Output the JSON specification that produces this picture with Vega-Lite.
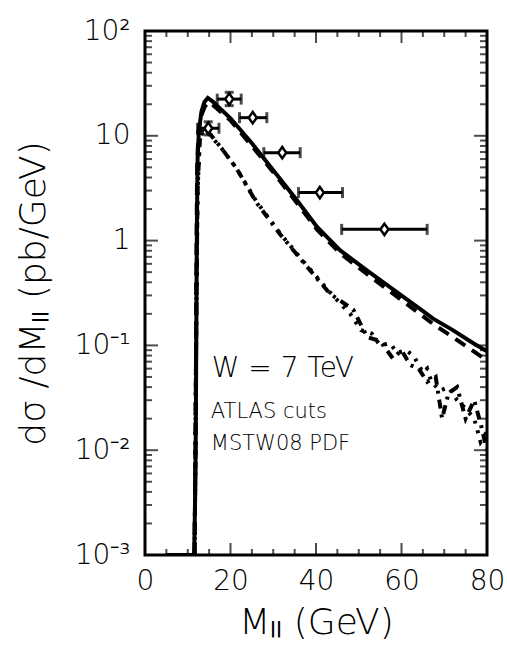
{
  "$schema": "https://vega.github.io/schema/vega-lite/v6.json",
  "width": 342,
  "height": 524,
  "autosize": {"type": "none"},
  "padding": {"left": 145, "top": 31, "right": 20, "bottom": 95},
  "background": "white",
  "config": {
    "view": {"stroke": "black", "strokeWidth": 3}
  },
  "datasets": {
    "curves": [
      {"m": 5, "v": 0.001, "s": "solid"},
      {"m": 11.5, "v": 0.001, "s": "solid"},
      {"m": 11.7, "v": 0.003, "s": "solid"},
      {"m": 11.85, "v": 0.01, "s": "solid"},
      {"m": 11.95, "v": 0.05, "s": "solid"},
      {"m": 12.05, "v": 0.3, "s": "solid"},
      {"m": 12.15, "v": 1.5, "s": "solid"},
      {"m": 12.3, "v": 6, "s": "solid"},
      {"m": 12.6, "v": 11, "s": "solid"},
      {"m": 13.2, "v": 17, "s": "solid"},
      {"m": 13.9, "v": 21, "s": "solid"},
      {"m": 14.7, "v": 23, "s": "solid"},
      {"m": 16, "v": 21, "s": "solid"},
      {"m": 18, "v": 17.5, "s": "solid"},
      {"m": 20, "v": 14.7, "s": "solid"},
      {"m": 25, "v": 8.5, "s": "solid"},
      {"m": 30, "v": 4.7, "s": "solid"},
      {"m": 35.5, "v": 2.44, "s": "solid"},
      {"m": 40.2, "v": 1.36, "s": "solid"},
      {"m": 45.6, "v": 0.81, "s": "solid"},
      {"m": 51.9, "v": 0.52, "s": "solid"},
      {"m": 58.1, "v": 0.34, "s": "solid"},
      {"m": 63.6, "v": 0.235, "s": "solid"},
      {"m": 67.4, "v": 0.18, "s": "solid"},
      {"m": 72, "v": 0.14, "s": "solid"},
      {"m": 76.8, "v": 0.105, "s": "solid"},
      {"m": 80, "v": 0.088, "s": "solid"},
      {"m": 11.6, "v": 0.001, "s": "dashed"},
      {"m": 11.8, "v": 0.01, "s": "dashed"},
      {"m": 11.95, "v": 0.1, "s": "dashed"},
      {"m": 12.05, "v": 1, "s": "dashed"},
      {"m": 12.2, "v": 5, "s": "dashed"},
      {"m": 12.5, "v": 11, "s": "dashed"},
      {"m": 13, "v": 15, "s": "dashed"},
      {"m": 14, "v": 19, "s": "dashed"},
      {"m": 14.8, "v": 21, "s": "dashed"},
      {"m": 16, "v": 19.5, "s": "dashed"},
      {"m": 18, "v": 16.5, "s": "dashed"},
      {"m": 20, "v": 14, "s": "dashed"},
      {"m": 25, "v": 8, "s": "dashed"},
      {"m": 30, "v": 4.5, "s": "dashed"},
      {"m": 35.5, "v": 2.3, "s": "dashed"},
      {"m": 40.2, "v": 1.28, "s": "dashed"},
      {"m": 45.6, "v": 0.76, "s": "dashed"},
      {"m": 51.9, "v": 0.48, "s": "dashed"},
      {"m": 58.1, "v": 0.31, "s": "dashed"},
      {"m": 63.6, "v": 0.21, "s": "dashed"},
      {"m": 67.4, "v": 0.16, "s": "dashed"},
      {"m": 72, "v": 0.12, "s": "dashed"},
      {"m": 76.8, "v": 0.088, "s": "dashed"},
      {"m": 80, "v": 0.072, "s": "dashed"},
      {"m": 11.6, "v": 0.001, "s": "dotted"},
      {"m": 11.8, "v": 0.01, "s": "dotted"},
      {"m": 12.0, "v": 0.2, "s": "dotted"},
      {"m": 12.3, "v": 3, "s": "dotted"},
      {"m": 12.8, "v": 9, "s": "dotted"},
      {"m": 13.5, "v": 11, "s": "dotted"},
      {"m": 14.4, "v": 11, "s": "dotted"},
      {"m": 16, "v": 9.3, "s": "dotted"},
      {"m": 17.9, "v": 7.6, "s": "dotted"},
      {"m": 21.4, "v": 4.9, "s": "dotted"},
      {"m": 26.1, "v": 2.35, "s": "dotted"},
      {"m": 31.6, "v": 1.17, "s": "dotted"},
      {"m": 37.8, "v": 0.58, "s": "dotted"},
      {"m": 43.3, "v": 0.32, "s": "dotted"},
      {"m": 48, "v": 0.2, "s": "dotted"},
      {"m": 50.5, "v": 0.14, "s": "dotted"},
      {"m": 53, "v": 0.13, "s": "dotted"},
      {"m": 55, "v": 0.1, "s": "dotted"},
      {"m": 57.3, "v": 0.105, "s": "dotted"},
      {"m": 59, "v": 0.085, "s": "dotted"},
      {"m": 61, "v": 0.09, "s": "dotted"},
      {"m": 62.8, "v": 0.08, "s": "dotted"},
      {"m": 65, "v": 0.055, "s": "dotted"},
      {"m": 66, "v": 0.06, "s": "dotted"},
      {"m": 67, "v": 0.045, "s": "dotted"},
      {"m": 69, "v": 0.037, "s": "dotted"},
      {"m": 71, "v": 0.04, "s": "dotted"},
      {"m": 73, "v": 0.03, "s": "dotted"},
      {"m": 75, "v": 0.025, "s": "dotted"},
      {"m": 77, "v": 0.02, "s": "dotted"},
      {"m": 78.5, "v": 0.012, "s": "dotted"},
      {"m": 80, "v": 0.015, "s": "dotted"},
      {"m": 11.6, "v": 0.001, "s": "dashdot"},
      {"m": 11.8, "v": 0.01, "s": "dashdot"},
      {"m": 12.0, "v": 0.2, "s": "dashdot"},
      {"m": 12.3, "v": 3, "s": "dashdot"},
      {"m": 12.8, "v": 9, "s": "dashdot"},
      {"m": 13.5, "v": 11.5, "s": "dashdot"},
      {"m": 14.4, "v": 11.3, "s": "dashdot"},
      {"m": 16, "v": 9.5, "s": "dashdot"},
      {"m": 17.9, "v": 7.6, "s": "dashdot"},
      {"m": 21.4, "v": 4.9, "s": "dashdot"},
      {"m": 26.1, "v": 2.3, "s": "dashdot"},
      {"m": 31.6, "v": 1.15, "s": "dashdot"},
      {"m": 37.8, "v": 0.57, "s": "dashdot"},
      {"m": 43.3, "v": 0.31, "s": "dashdot"},
      {"m": 48.7, "v": 0.22, "s": "dashdot"},
      {"m": 52, "v": 0.12, "s": "dashdot"},
      {"m": 55, "v": 0.11, "s": "dashdot"},
      {"m": 58, "v": 0.075, "s": "dashdot"},
      {"m": 60, "v": 0.09, "s": "dashdot"},
      {"m": 62, "v": 0.065, "s": "dashdot"},
      {"m": 64, "v": 0.06, "s": "dashdot"},
      {"m": 66, "v": 0.045, "s": "dashdot"},
      {"m": 68, "v": 0.05, "s": "dashdot"},
      {"m": 69.5, "v": 0.02, "s": "dashdot"},
      {"m": 71, "v": 0.035, "s": "dashdot"},
      {"m": 73, "v": 0.04, "s": "dashdot"},
      {"m": 75, "v": 0.02, "s": "dashdot"},
      {"m": 77, "v": 0.03, "s": "dashdot"},
      {"m": 78.5, "v": 0.018, "s": "dashdot"},
      {"m": 80, "v": 0.01, "s": "dashdot"}
    ],
    "points": [
      {"m": 14.8, "v": 11.8, "mlo": 12.3, "mhi": 17.3, "vlo": 10.2, "vhi": 13.6},
      {"m": 19.7, "v": 22.4, "mlo": 16.9, "mhi": 22.5, "vlo": 19.4, "vhi": 26},
      {"m": 25.2, "v": 14.9, "mlo": 22.1, "mhi": 28.5, "vlo": null, "vhi": null},
      {"m": 32.1, "v": 6.9, "mlo": 27.8, "mhi": 36.3, "vlo": null, "vhi": null},
      {"m": 40.9, "v": 2.87, "mlo": 35.9, "mhi": 46.2, "vlo": null, "vhi": null},
      {"m": 56.0, "v": 1.28, "mlo": 46.0, "mhi": 66.0, "vlo": null, "vhi": null}
    ],
    "biglabel": [
      {"m": 15.6, "v": 0.05, "t": "W = 7 TeV"}
    ],
    "smalllabels": [
      {"m": 15.4, "v": 0.0201, "t": "ATLAS cuts"},
      {"m": 15.4, "v": 0.01005, "t": "MSTW08 PDF"}
    ],
    "xmajor": [{"m": 20}, {"m": 40}, {"m": 60}],
    "xminor": [{"m": 5}, {"m": 10}, {"m": 15}, {"m": 25}, {"m": 30}, {"m": 35}, {"m": 45}, {"m": 50}, {"m": 55}, {"m": 65}, {"m": 70}, {"m": 75}],
    "ymajor": [{"v": 0.01}, {"v": 0.1}, {"v": 1}, {"v": 10}],
    "yminor": [
      {"v": 0.002}, {"v": 0.003}, {"v": 0.004}, {"v": 0.005}, {"v": 0.006}, {"v": 0.007}, {"v": 0.008}, {"v": 0.009},
      {"v": 0.02}, {"v": 0.03}, {"v": 0.04}, {"v": 0.05}, {"v": 0.06}, {"v": 0.07}, {"v": 0.08}, {"v": 0.09},
      {"v": 0.2}, {"v": 0.3}, {"v": 0.4}, {"v": 0.5}, {"v": 0.6}, {"v": 0.7}, {"v": 0.8}, {"v": 0.9},
      {"v": 2}, {"v": 3}, {"v": 4}, {"v": 5}, {"v": 6}, {"v": 7}, {"v": 8}, {"v": 9},
      {"v": 20}, {"v": 30}, {"v": 40}, {"v": 50}, {"v": 60}, {"v": 70}, {"v": 80}, {"v": 90}
    ]
  },
  "layer": [
    {
      "data": {"name": "curves"},
      "transform": [{"filter": "datum.s === 'solid'"}],
      "mark": {"type": "line", "color": "black", "strokeWidth": 4, "clip": true},
      "encoding": {
        "x": {"field": "m", "type": "quantitative",
          "scale": {"domain": [0, 80], "nice": false, "zero": false},
          "axis": {"orient": "bottom", "values": [0, 20, 40, 60, 80], "ticks": false, "domain": false, "grid": false,
            "labelPadding": 12, "labelFontSize": 28, "labelFont": "DejaVu Sans", "labelFontWeight": 200, "labelColor": "black",
            "labelFlush": false, "labelOverlap": false, "labelBound": false,
            "title": "Mₗₗ (GeV)", "titleFontSize": 36, "titleFont": "DejaVu Sans", "titleFontWeight": 200, "titleColor": "black", "titlePadding": 10}},
        "y": {"field": "v", "type": "quantitative",
          "scale": {"type": "log", "domain": [0.001, 100], "nice": false},
          "axis": {"orient": "left", "values": [0.001, 0.01, 0.1, 1, 10, 100], "ticks": false, "domain": false, "grid": false,
            "labelExpr": "datum.value === 100 ? '10²' : datum.value === 10 ? '10' : datum.value === 1 ? '1' : datum.value === 0.1 ? '10⁻¹' : datum.value === 0.01 ? '10⁻²' : '10⁻³'",
            "labelPadding": 15, "labelFontSize": 28, "labelFont": "DejaVu Sans", "labelFontWeight": 200, "labelColor": "black",
            "labelFlush": false, "labelOverlap": false, "labelBound": false,
            "title": "dσ /dMₗₗ (pb/GeV)", "titleFontSize": 36, "titleFont": "DejaVu Sans", "titleFontWeight": 200, "titleColor": "black", "titlePadding": 22}}
      }
    },
    {
      "data": {"name": "curves"},
      "transform": [{"filter": "datum.s === 'dashed'"}],
      "mark": {"type": "line", "color": "black", "strokeWidth": 4, "strokeDash": [12, 8], "clip": true},
      "encoding": {
        "x": {"field": "m", "type": "quantitative"},
        "y": {"field": "v", "type": "quantitative"}
      }
    },
    {
      "data": {"name": "curves"},
      "transform": [{"filter": "datum.s === 'dotted'"}],
      "mark": {"type": "line", "color": "black", "strokeWidth": 4, "strokeDash": [3, 7], "clip": true},
      "encoding": {
        "x": {"field": "m", "type": "quantitative"},
        "y": {"field": "v", "type": "quantitative"}
      }
    },
    {
      "data": {"name": "curves"},
      "transform": [{"filter": "datum.s === 'dashdot'"}],
      "mark": {"type": "line", "color": "black", "strokeWidth": 4, "strokeDash": [9, 6, 3, 6], "clip": true},
      "encoding": {
        "x": {"field": "m", "type": "quantitative"},
        "y": {"field": "v", "type": "quantitative"}
      }
    },
    {
      "data": {"name": "xmajor"},
      "mark": {"type": "tick", "orient": "vertical", "color": "black", "size": 12, "thickness": 2, "yOffset": -6},
      "encoding": {"x": {"field": "m", "type": "quantitative"}, "y": {"datum": 0.001, "type": "quantitative"}}
    },
    {
      "data": {"name": "xmajor"},
      "mark": {"type": "tick", "orient": "vertical", "color": "black", "size": 12, "thickness": 2, "yOffset": 6},
      "encoding": {"x": {"field": "m", "type": "quantitative"}, "y": {"datum": 100, "type": "quantitative"}}
    },
    {
      "data": {"name": "xminor"},
      "mark": {"type": "tick", "orient": "vertical", "color": "black", "size": 6, "thickness": 2, "yOffset": -3},
      "encoding": {"x": {"field": "m", "type": "quantitative"}, "y": {"datum": 0.001, "type": "quantitative"}}
    },
    {
      "data": {"name": "xminor"},
      "mark": {"type": "tick", "orient": "vertical", "color": "black", "size": 6, "thickness": 2, "yOffset": 3},
      "encoding": {"x": {"field": "m", "type": "quantitative"}, "y": {"datum": 100, "type": "quantitative"}}
    },
    {
      "data": {"name": "ymajor"},
      "mark": {"type": "tick", "orient": "horizontal", "color": "black", "size": 13, "thickness": 2, "xOffset": 6.5},
      "encoding": {"y": {"field": "v", "type": "quantitative"}, "x": {"datum": 0, "type": "quantitative"}}
    },
    {
      "data": {"name": "ymajor"},
      "mark": {"type": "tick", "orient": "horizontal", "color": "black", "size": 13, "thickness": 2, "xOffset": -6.5},
      "encoding": {"y": {"field": "v", "type": "quantitative"}, "x": {"datum": 80, "type": "quantitative"}}
    },
    {
      "data": {"name": "yminor"},
      "mark": {"type": "tick", "orient": "horizontal", "color": "black", "size": 7, "thickness": 2, "xOffset": 3.5},
      "encoding": {"y": {"field": "v", "type": "quantitative"}, "x": {"datum": 0, "type": "quantitative"}}
    },
    {
      "data": {"name": "yminor"},
      "mark": {"type": "tick", "orient": "horizontal", "color": "black", "size": 7, "thickness": 2, "xOffset": -3.5},
      "encoding": {"y": {"field": "v", "type": "quantitative"}, "x": {"datum": 80, "type": "quantitative"}}
    },
    {
      "data": {"name": "points"},
      "mark": {"type": "rule", "color": "black", "strokeWidth": 3},
      "encoding": {
        "x": {"field": "mlo", "type": "quantitative"},
        "x2": {"field": "mhi"},
        "y": {"field": "v", "type": "quantitative"}
      }
    },
    {
      "data": {"name": "points"},
      "transform": [{"filter": "isValid(datum.vlo)"}],
      "mark": {"type": "rule", "color": "black", "strokeWidth": 3},
      "encoding": {
        "x": {"field": "m", "type": "quantitative"},
        "y": {"field": "vlo", "type": "quantitative"},
        "y2": {"field": "vhi"}
      }
    },
    {
      "data": {"name": "points"},
      "mark": {"type": "tick", "color": "black", "orient": "vertical", "size": 11, "thickness": 3},
      "encoding": {
        "x": {"field": "mlo", "type": "quantitative"},
        "y": {"field": "v", "type": "quantitative"}
      }
    },
    {
      "data": {"name": "points"},
      "mark": {"type": "tick", "color": "black", "orient": "vertical", "size": 11, "thickness": 3},
      "encoding": {
        "x": {"field": "mhi", "type": "quantitative"},
        "y": {"field": "v", "type": "quantitative"}
      }
    },
    {
      "data": {"name": "points"},
      "transform": [{"filter": "isValid(datum.vlo)"}],
      "mark": {"type": "tick", "color": "black", "orient": "horizontal", "size": 9, "thickness": 3},
      "encoding": {
        "x": {"field": "m", "type": "quantitative"},
        "y": {"field": "vlo", "type": "quantitative"}
      }
    },
    {
      "data": {"name": "points"},
      "transform": [{"filter": "isValid(datum.vhi)"}],
      "mark": {"type": "tick", "color": "black", "orient": "horizontal", "size": 9, "thickness": 3},
      "encoding": {
        "x": {"field": "m", "type": "quantitative"},
        "y": {"field": "vhi", "type": "quantitative"}
      }
    },
    {
      "data": {"name": "points"},
      "mark": {"type": "point", "shape": "M0,-1L0.7,0L0,1L-0.7,0Z", "filled": true, "fill": "white", "stroke": "black", "strokeWidth": 2.5, "size": 130, "opacity": 1},
      "encoding": {
        "x": {"field": "m", "type": "quantitative"},
        "y": {"field": "v", "type": "quantitative"}
      }
    },
    {
      "data": {"name": "biglabel"},
      "mark": {"type": "text", "align": "left", "baseline": "alphabetic", "color": "black", "font": "DejaVu Sans", "fontWeight": 200, "fontSize": 28},
      "encoding": {
        "x": {"field": "m", "type": "quantitative"},
        "y": {"field": "v", "type": "quantitative"},
        "text": {"field": "t"}
      }
    },
    {
      "data": {"name": "smalllabels"},
      "mark": {"type": "text", "align": "left", "baseline": "alphabetic", "color": "black", "font": "DejaVu Sans", "fontWeight": 200, "fontSize": 21},
      "encoding": {
        "x": {"field": "m", "type": "quantitative"},
        "y": {"field": "v", "type": "quantitative"},
        "text": {"field": "t"}
      }
    }
  ]
}
